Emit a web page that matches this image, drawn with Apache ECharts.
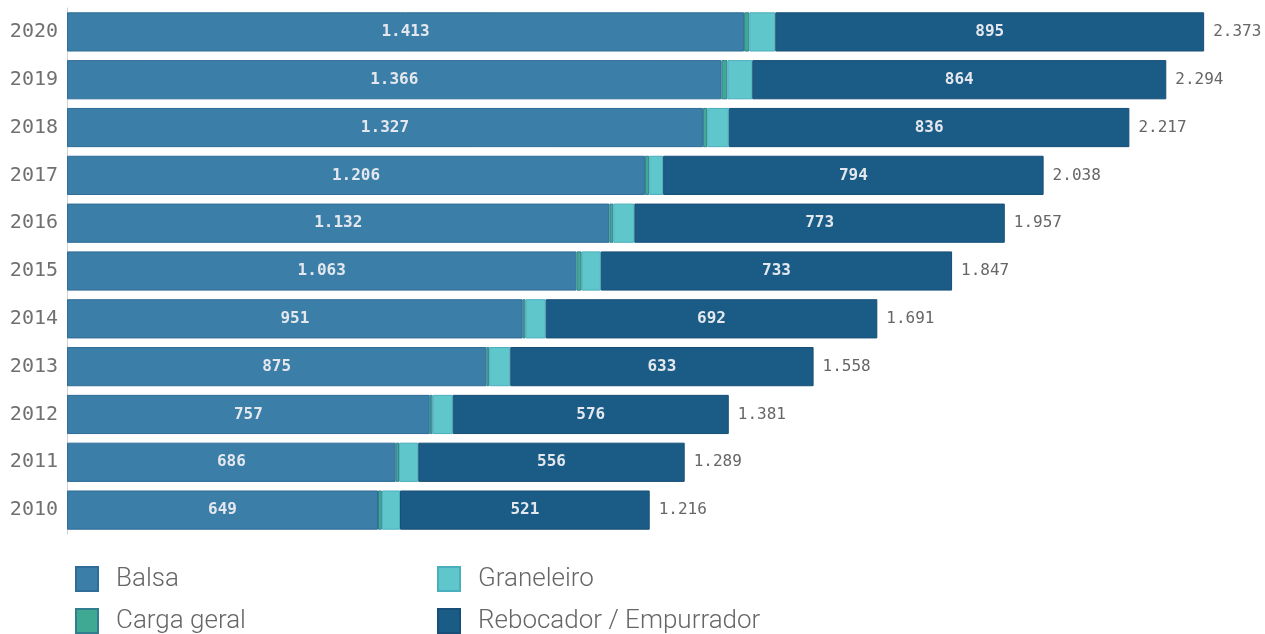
<!DOCTYPE html>
<html><head><meta charset="utf-8">
<script src="https://cdn.jsdelivr.net/npm/echarts@6/dist/echarts.min.js"></script>
<style>html,body{margin:0;padding:0;background:#fff}#c{width:1265px;height:634px}</style>
</head><body><div id="c"></div>
<script>
const years = ['2010','2011','2012','2013','2014','2015','2016','2017','2018','2019','2020'];
const balsa = [649, 686, 757, 875, 951, 1063, 1132, 1206, 1327, 1366, 1413];
const cargaGeral = [8, 7, 6, 6, 6, 11, 8, 9, 9, 12, 11];
const graneleiro = [38, 40, 42, 44, 42, 40, 44, 29, 45, 52, 54];
const rebocador = [521, 556, 576, 633, 692, 733, 773, 794, 836, 864, 895];
const totals = [1216, 1289, 1381, 1558, 1691, 1847, 1957, 2038, 2217, 2294, 2373];

function fmt(v){ return String(v).replace(/\B(?=(\d{3})+(?!\d))/g, '.'); }
const mono = 'DejaVu Sans Mono';
const inLabel = {show:true, position:'inside', color:'#e4e8ee', fontFamily:mono, fontSize:16, fontWeight:'bold', formatter:p=>fmt(p.value)};
function bar(name, data, color, border, label){
  return {name, type:'bar', stack:'s', data, barCategoryGap:'18%',
    itemStyle:{color, borderColor:border, borderWidth:1},
    label: label || {show:false}, emphasis:{disabled:true}};
}
const chart = echarts.init(document.getElementById('c'));
const legendBase = {itemWidth:22, itemHeight:24, icon:'rect', padding:0,
  textStyle:{fontFamily:'Roboto', fontSize:26, color:'#666', fontWeight:300, padding:[0,0,0,13]}, selectedMode:false};
chart.setOption({
  animation:false,
  grid:{left:67, right:-3, top:8, bottom:100},
  xAxis:{type:'value', min:0, max:2500, show:false},
  yAxis:{type:'category', data:years, axisTick:{show:false},
    axisLine:{show:true, lineStyle:{color:'#d0d0d0', width:1}},
    axisLabel:{fontFamily:mono, fontSize:20, color:'#707070', margin:9}},
  legend:[
    Object.assign({}, legendBase, {data:['Balsa'], left:75, top:566}),
    Object.assign({}, legendBase, {data:['Graneleiro'], left:437, top:566}),
    Object.assign({}, legendBase, {data:['Carga geral'], left:75, top:608}),
    Object.assign({}, legendBase, {data:['Rebocador / Empurrador'], left:437, top:608})
  ],
  series:[
    bar('Balsa', balsa, '#3b7ea8', '#2f6c98', inLabel),
    bar('Carga geral', cargaGeral, '#3fa994', '#2f7f90'),
    bar('Graneleiro', graneleiro, '#5fc7cc', '#4aaebd'),
    bar('Rebocador / Empurrador', rebocador, '#1b5c86', '#174f78', inLabel),
    {name:'Total', type:'bar', stack:'s', data:totals.map(()=>0), silent:true,
     itemStyle:{color:'transparent'},
     label:{show:true, position:'right', distance:9, color:'#666', fontFamily:mono, fontSize:16,
       formatter:p=>fmt(totals[p.dataIndex])}}
  ]
});
</script></body></html>
